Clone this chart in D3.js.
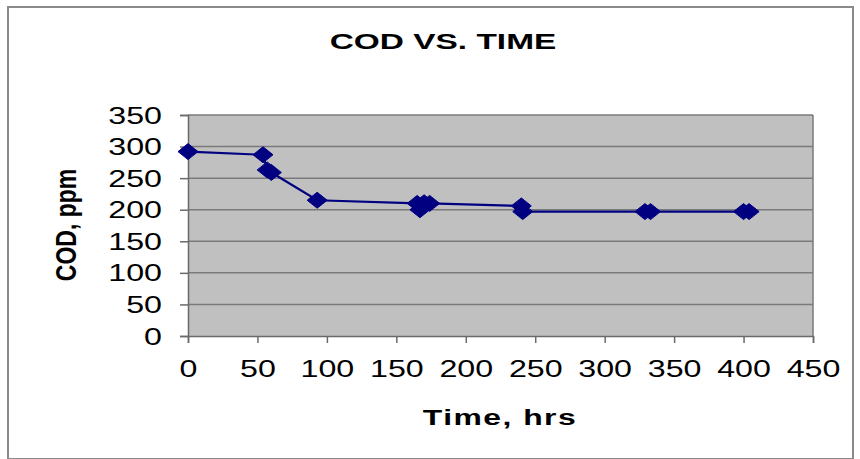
<!DOCTYPE html>
<html>
<head>
<meta charset="utf-8">
<script src="https://cdn.jsdelivr.net/npm/d3@7"></script>
<style>
  body { margin: 0; background: #fff; }
  svg text { font-family: Arial, "Liberation Sans", sans-serif; fill: #000; }
</style>
</head>
<body>
<svg id="chart" width="860" height="459"></svg>
<script>
// COD readings over time (hrs, ppm)
var timeHrs = [0, 54, 57, 60, 93, 165, 167, 170, 174, 240, 241, 329, 333, 400, 404];
var codPpm  = [292, 287, 263, 259, 215, 210, 200, 211, 210, 206, 197, 197, 197, 197, 197];
var xTicks = [0, 50, 100, 150, 200, 250, 300, 350, 400, 450];
var yTicks = [0, 50, 100, 150, 200, 250, 300, 350];

var points = timeHrs.map(function(t, i) { return {t: t, v: codPpm[i]}; });

// source image is stretched sideways, so text is squashed back with scale()
var stretch = 1.4;

var svg = d3.select('#chart');
var plot = {left: 188, right: 813, top: 115, bottom: 336};

var x = d3.scaleLinear().domain([0, 450]).range([plot.left, plot.right]);
var y = d3.scaleLinear().domain([0, 350]).range([plot.bottom, plot.top]);

// outer chart frame
svg.append('rect')
    .attr('x', 8).attr('y', 7)
    .attr('width', 845).attr('height', 452)
    .attr('fill', '#fff')
    .attr('stroke', '#8a8a8a')
    .attr('stroke-width', 2);

// plot area
svg.append('rect')
    .attr('x', plot.left).attr('y', plot.top)
    .attr('width', plot.right - plot.left)
    .attr('height', plot.bottom - plot.top)
    .attr('fill', '#c0c0c0');

// gridlines
svg.append('g').selectAll('line')
    .data(yTicks.filter(function(d) { return d > 0; }))
    .join('line')
    .attr('x1', plot.left).attr('x2', plot.right)
    .attr('y1', function(d) { return y(d); })
    .attr('y2', function(d) { return y(d); })
    .attr('stroke', '#7a7a7a')
    .attr('stroke-width', 1.5);

// right border of plot
svg.append('line')
    .attr('x1', plot.right).attr('x2', plot.right)
    .attr('y1', plot.top).attr('y2', plot.bottom)
    .attr('stroke', '#7a7a7a').attr('stroke-width', 1.5);

// axes
var xAxis = svg.append('g')
    .attr('transform', 'translate(0,' + plot.bottom + ')')
    .call(d3.axisBottom(x).tickValues(xTicks).tickSize(7).tickFormat(d3.format('d')));
var yAxis = svg.append('g')
    .attr('transform', 'translate(' + plot.left + ',0)')
    .call(d3.axisLeft(y).tickValues(yTicks).tickSize(8).tickFormat(d3.format('d')));

[xAxis, yAxis].forEach(function(ax) {
    ax.select('.domain').attr('stroke', '#6a6a6a').attr('stroke-width', 1.5);
    ax.selectAll('.tick line').attr('stroke', '#6a6a6a').attr('stroke-width', 1.5);
    ax.selectAll('.tick text').attr('font-size', 23).attr('fill', '#000');
});

xAxis.selectAll('.tick text')
    .attr('y', null).attr('dy', null)
    .attr('transform', 'translate(0,41) scale(' + stretch + ',1)');
yAxis.selectAll('.tick text')
    .attr('x', null).attr('dy', null)
    .attr('transform', 'translate(-26,8) scale(' + stretch + ',1)');

// series line + diamond markers
var line = d3.line()
    .x(function(d) { return x(d.t); })
    .y(function(d) { return y(d.v); });

svg.append('path')
    .datum(points)
    .attr('d', line)
    .attr('fill', 'none')
    .attr('stroke', '#000080')
    .attr('stroke-width', 2.2);

var diamond = 'M-10,0L0,-8L10,0L0,8Z';
svg.append('g').selectAll('path')
    .data(points)
    .join('path')
    .attr('d', diamond)
    .attr('transform', function(d) { return 'translate(' + x(d.t) + ',' + y(d.v) + ')'; })
    .attr('fill', '#000080')
    .attr('stroke', '#000080')
    .attr('stroke-width', 1);

// title and axis titles
svg.append('text')
    .attr('transform', 'translate(443,49) scale(1.52,1)')
    .attr('text-anchor', 'middle')
    .attr('font-size', 22)
    .attr('font-weight', 'bold')
    .text('COD VS. TIME');

svg.append('text')
    .attr('transform', 'translate(500,425) scale(1.45,1)')
    .attr('text-anchor', 'middle')
    .attr('font-size', 22)
    .attr('font-weight', 'bold')
    .attr('letter-spacing', 1)
    .text('Time, hrs');

svg.append('text')
    .attr('transform', 'translate(76,225) scale(1.3,1) rotate(-90)')
    .attr('text-anchor', 'middle')
    .attr('font-size', 23)
    .attr('font-weight', 'bold')
    .text('COD, ppm');
</script>
</body>
</html>
